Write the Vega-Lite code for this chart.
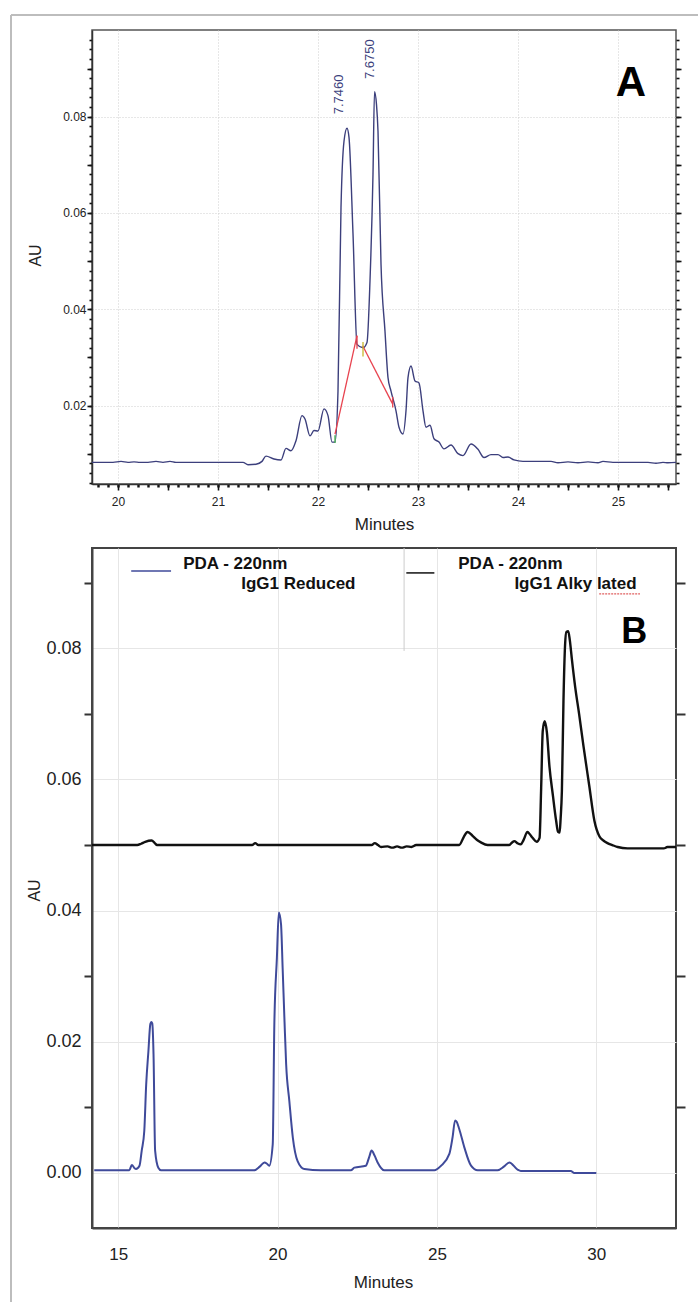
{
 "$schema": "https://vega.github.io/schema/vega-lite/v6.json",
 "background": "white",
 "padding": {"left": 9, "top": 13, "right": 0, "bottom": 0},
 "bounds": "flush",
 "spacing": 64,
 "resolve": {"scale": {"color": "independent"}},
 "config": {"font": "Liberation Sans", "axis": {"labelColor": "#222", "titleColor": "#222", "titleFontWeight": "normal", "labelOverlap": false, "labelFlush": false}},
 "datasets": {
  "frame": [{"x": 18.93, "x2": 18.93, "y": 0.1011, "y2": -0.1662}, {"x": 18.93, "x2": 25.8, "y": 0.1011, "y2": 0.1011}],
  "chromA": [
   {"t":19.74,"v":0.0082},{"t":19.95,"v":0.0082},{"t":20.03,"v":0.0084},{"t":20.10,"v":0.0082},{"t":20.16,"v":0.0083},{"t":20.22,"v":0.0082},{"t":20.30,"v":0.0082},{"t":20.38,"v":0.0084},{"t":20.45,"v":0.0082},{"t":20.52,"v":0.0084},{"t":20.58,"v":0.0082},{"t":20.70,"v":0.0082},{"t":21.00,"v":0.0082},{"t":21.25,"v":0.0082},{"t":21.30,"v":0.0077},{"t":21.38,"v":0.0078},{"t":21.44,"v":0.0084},{"t":21.48,"v":0.0095},{"t":21.56,"v":0.0089},{"t":21.63,"v":0.0087},{"t":21.68,"v":0.0111},{"t":21.73,"v":0.0106},{"t":21.78,"v":0.0127},{"t":21.84,"v":0.0179},{"t":21.87,"v":0.0172},{"t":21.92,"v":0.0137},{"t":21.96,"v":0.0148},{"t":22.00,"v":0.0147},{"t":22.06,"v":0.0193},{"t":22.10,"v":0.0179},{"t":22.14,"v":0.0124},{"t":22.17,"v":0.0124},{"t":22.20,"v":0.0230},{"t":22.23,"v":0.0611},{"t":22.26,"v":0.0749},{"t":22.29,"v":0.0776},{"t":22.31,"v":0.0757},{"t":22.35,"v":0.0557},{"t":22.39,"v":0.0327},{"t":22.45,"v":0.0320},{"t":22.49,"v":0.0331},{"t":22.52,"v":0.0459},{"t":22.55,"v":0.0681},{"t":22.565,"v":0.0852},{"t":22.585,"v":0.0825},{"t":22.60,"v":0.0770},{"t":22.63,"v":0.0494},{"t":22.67,"v":0.0354},{"t":22.70,"v":0.0258},{"t":22.73,"v":0.0230},{"t":22.78,"v":0.0189},{"t":22.81,"v":0.0155},{"t":22.85,"v":0.0141},{"t":22.88,"v":0.0189},{"t":22.90,"v":0.0258},{"t":22.93,"v":0.0282},{"t":22.97,"v":0.0251},{"t":23.01,"v":0.0247},{"t":23.05,"v":0.0189},{"t":23.08,"v":0.0155},{"t":23.12,"v":0.0159},{"t":23.16,"v":0.0131},{"t":23.21,"v":0.0124},{"t":23.26,"v":0.0110},{"t":23.33,"v":0.0118},{"t":23.40,"v":0.0100},{"t":23.45,"v":0.0096},{"t":23.53,"v":0.0120},{"t":23.60,"v":0.0109},{"t":23.66,"v":0.0092},{"t":23.73,"v":0.0098},{"t":23.80,"v":0.0098},{"t":23.85,"v":0.0092},{"t":23.90,"v":0.0093},{"t":23.96,"v":0.0087},{"t":24.05,"v":0.0084},{"t":24.33,"v":0.0084},{"t":24.40,"v":0.0081},{"t":24.50,"v":0.0083},{"t":24.60,"v":0.0081},{"t":24.70,"v":0.0083},{"t":24.80,"v":0.0081},{"t":24.85,"v":0.0084},{"t":24.95,"v":0.0082},{"t":25.10,"v":0.0082},{"t":25.30,"v":0.0082},{"t":25.38,"v":0.0080},{"t":25.45,"v":0.0082},{"t":25.50,"v":0.0081},{"t":25.58,"v":0.0082}
  ],
  "marksA": [
   {"x": 22.17, "x2": 22.39, "y": 0.01405, "y2": 0.0345, "c": "r"},
   {"x": 22.447, "x2": 22.747, "y": 0.0324, "y2": 0.0203, "c": "r"},
   {"x": 22.39, "x2": 22.39, "y": 0.0345, "y2": 0.0318, "c": "r"},
   {"x": 22.747, "x2": 22.747, "y": 0.0218, "y2": 0.0196, "c": "r"},
   {"x": 22.45, "x2": 22.45, "y": 0.0332, "y2": 0.0302, "c": "y"},
   {"x": 22.17, "x2": 22.17, "y": 0.0138, "y2": 0.0122, "c": "g"}
  ],
  "peaksA": [{"x": 22.21, "y": 0.0805, "label": "7.7460"}, {"x": 22.515, "y": 0.0878, "label": "7.6750"}],
  "tagA": [{"x": 25.13, "y": 0.0843, "label": "A"}],
  "chromB": [
   {"s":"Alkylated","t":14.18,"v":0.0500},{"s":"Alkylated","t":15.60,"v":0.0500},{"s":"Alkylated","t":15.72,"v":0.0502},{"s":"Alkylated","t":15.85,"v":0.0505},{"s":"Alkylated","t":16.05,"v":0.0507},{"s":"Alkylated","t":16.15,"v":0.0503},{"s":"Alkylated","t":16.22,"v":0.0500},{"s":"Alkylated","t":19.20,"v":0.0500},{"s":"Alkylated","t":19.30,"v":0.0503},{"s":"Alkylated","t":19.40,"v":0.0500},{"s":"Alkylated","t":22.95,"v":0.0500},{"s":"Alkylated","t":23.05,"v":0.0503},{"s":"Alkylated","t":23.15,"v":0.0500},{"s":"Alkylated","t":23.25,"v":0.0497},{"s":"Alkylated","t":23.45,"v":0.0498},{"s":"Alkylated","t":23.60,"v":0.0496},{"s":"Alkylated","t":23.75,"v":0.0498},{"s":"Alkylated","t":23.90,"v":0.0496},{"s":"Alkylated","t":24.05,"v":0.0498},{"s":"Alkylated","t":24.20,"v":0.0497},{"s":"Alkylated","t":24.35,"v":0.0500},{"s":"Alkylated","t":25.70,"v":0.0500},{"s":"Alkylated","t":25.80,"v":0.0508},{"s":"Alkylated","t":25.86,"v":0.0514},{"s":"Alkylated","t":25.96,"v":0.0520},{"s":"Alkylated","t":26.12,"v":0.0514},{"s":"Alkylated","t":26.25,"v":0.0508},{"s":"Alkylated","t":26.38,"v":0.0504},{"s":"Alkylated","t":26.59,"v":0.0500},{"s":"Alkylated","t":27.27,"v":0.0500},{"s":"Alkylated","t":27.36,"v":0.0504},{"s":"Alkylated","t":27.43,"v":0.0506},{"s":"Alkylated","t":27.52,"v":0.0503},{"s":"Alkylated","t":27.63,"v":0.0501},{"s":"Alkylated","t":27.72,"v":0.0508},{"s":"Alkylated","t":27.84,"v":0.0520},{"s":"Alkylated","t":27.92,"v":0.0516},{"s":"Alkylated","t":28.00,"v":0.0511},{"s":"Alkylated","t":28.13,"v":0.0505},{"s":"Alkylated","t":28.22,"v":0.0511},{"s":"Alkylated","t":28.27,"v":0.0587},{"s":"Alkylated","t":28.32,"v":0.0674},{"s":"Alkylated","t":28.38,"v":0.0689},{"s":"Alkylated","t":28.45,"v":0.0672},{"s":"Alkylated","t":28.53,"v":0.0620},{"s":"Alkylated","t":28.64,"v":0.0575},{"s":"Alkylated","t":28.74,"v":0.0537},{"s":"Alkylated","t":28.80,"v":0.0520},{"s":"Alkylated","t":28.85,"v":0.0519},{"s":"Alkylated","t":28.88,"v":0.0540},{"s":"Alkylated","t":28.92,"v":0.0582},{"s":"Alkylated","t":28.97,"v":0.0720},{"s":"Alkylated","t":29.02,"v":0.0805},{"s":"Alkylated","t":29.06,"v":0.0825},{"s":"Alkylated","t":29.12,"v":0.0826},{"s":"Alkylated","t":29.17,"v":0.0812},{"s":"Alkylated","t":29.23,"v":0.0785},{"s":"Alkylated","t":29.34,"v":0.0740},{"s":"Alkylated","t":29.46,"v":0.0700},{"s":"Alkylated","t":29.60,"v":0.0650},{"s":"Alkylated","t":29.78,"v":0.0590},{"s":"Alkylated","t":29.94,"v":0.0537},{"s":"Alkylated","t":30.10,"v":0.0513},{"s":"Alkylated","t":30.22,"v":0.0507},{"s":"Alkylated","t":30.35,"v":0.0503},{"s":"Alkylated","t":30.50,"v":0.0500},{"s":"Alkylated","t":30.67,"v":0.0497},{"s":"Alkylated","t":30.98,"v":0.0495},{"s":"Alkylated","t":32.12,"v":0.0495},{"s":"Alkylated","t":32.23,"v":0.0497},{"s":"Alkylated","t":32.50,"v":0.0497},
   {"s":"Reduced","t":14.25,"v":0.0004},{"s":"Reduced","t":15.35,"v":0.0004},{"s":"Reduced","t":15.43,"v":0.0012},{"s":"Reduced","t":15.52,"v":0.0007},{"s":"Reduced","t":15.56,"v":0.0006},{"s":"Reduced","t":15.67,"v":0.0011},{"s":"Reduced","t":15.74,"v":0.0034},{"s":"Reduced","t":15.82,"v":0.0064},{"s":"Reduced","t":15.88,"v":0.0135},{"s":"Reduced","t":15.95,"v":0.0186},{"s":"Reduced","t":16.01,"v":0.0227},{"s":"Reduced","t":16.04,"v":0.0230},{"s":"Reduced","t":16.07,"v":0.0228},{"s":"Reduced","t":16.11,"v":0.0181},{"s":"Reduced","t":16.16,"v":0.0034},{"s":"Reduced","t":16.26,"v":0.0008},{"s":"Reduced","t":16.35,"v":0.0004},{"s":"Reduced","t":19.27,"v":0.0004},{"s":"Reduced","t":19.45,"v":0.0010},{"s":"Reduced","t":19.59,"v":0.0016},{"s":"Reduced","t":19.67,"v":0.0014},{"s":"Reduced","t":19.74,"v":0.0011},{"s":"Reduced","t":19.85,"v":0.0044},{"s":"Reduced","t":19.90,"v":0.0227},{"s":"Reduced","t":19.98,"v":0.0328},{"s":"Reduced","t":20.04,"v":0.0397},{"s":"Reduced","t":20.11,"v":0.0379},{"s":"Reduced","t":20.16,"v":0.0313},{"s":"Reduced","t":20.22,"v":0.0230},{"s":"Reduced","t":20.27,"v":0.0166},{"s":"Reduced","t":20.37,"v":0.0110},{"s":"Reduced","t":20.48,"v":0.0054},{"s":"Reduced","t":20.63,"v":0.0018},{"s":"Reduced","t":20.84,"v":0.0006},{"s":"Reduced","t":21.36,"v":0.0004},{"s":"Reduced","t":22.30,"v":0.0004},{"s":"Reduced","t":22.41,"v":0.0008},{"s":"Reduced","t":22.77,"v":0.0011},{"s":"Reduced","t":22.88,"v":0.0025},{"s":"Reduced","t":22.95,"v":0.0034},{"s":"Reduced","t":23.04,"v":0.0027},{"s":"Reduced","t":23.14,"v":0.0016},{"s":"Reduced","t":23.35,"v":0.0004},{"s":"Reduced","t":24.92,"v":0.0004},{"s":"Reduced","t":25.13,"v":0.0011},{"s":"Reduced","t":25.39,"v":0.0029},{"s":"Reduced","t":25.49,"v":0.0054},{"s":"Reduced","t":25.57,"v":0.0080},{"s":"Reduced","t":25.62,"v":0.0078},{"s":"Reduced","t":25.70,"v":0.0067},{"s":"Reduced","t":25.86,"v":0.0039},{"s":"Reduced","t":26.07,"v":0.0011},{"s":"Reduced","t":26.28,"v":0.0004},{"s":"Reduced","t":26.90,"v":0.0004},{"s":"Reduced","t":27.11,"v":0.0010},{"s":"Reduced","t":27.27,"v":0.0016},{"s":"Reduced","t":27.53,"v":0.0005},{"s":"Reduced","t":27.63,"v":0.0003},{"s":"Reduced","t":29.20,"v":0.0003},{"s":"Reduced","t":29.31,"v":0.0000},{"s":"Reduced","t":30.00,"v":0.0000}
  ],
  "legLines": [{"x": 15.41, "x2": 16.66, "y": 0.0918, "s": "Reduced"}, {"x": 24.04, "x2": 24.92, "y": 0.0915, "s": "Alkylated"}],
  "legText": [{"x": 17.04, "y": 0.0921, "label": "PDA - 220nm"}, {"x": 18.86, "y": 0.0890, "label": "IgG1 Reduced"}, {"x": 25.67, "y": 0.0921, "label": "PDA - 220nm"}, {"x": 27.43, "y": 0.0890, "label": "IgG1  Alky lated"}],
  "divider": [{"x": 23.97, "y": 0.0953, "y2": 0.0796}],
  "underline": [{"x": 30.09, "x2": 31.37, "y": 0.0883}],
  "tagB": [{"x": 31.19, "y": 0.0808, "label": "B"}]
 },
 "vconcat": [
  {
   "width": 584,
   "height": 454,
   "view": {"stroke": "#555", "strokeWidth": 1.5},
   "resolve": {"axis": {"x": "independent", "y": "independent"}},
   "layer": [
    {
     "data": {"name": "frame"},
     "mark": {"type": "rule", "color": "#bdbdbd", "strokeWidth": 2, "clip": false},
     "encoding": {
      "x": {"field": "x", "type": "quantitative", "scale": {"domain": [19.74, 25.58], "nice": false, "zero": false},
       "axis": {
        "orient": "bottom",
        "values": [19.8,19.9,20,20.1,20.2,20.3,20.4,20.5,20.6,20.7,20.8,20.9,21,21.1,21.2,21.3,21.4,21.5,21.6,21.7,21.8,21.9,22,22.1,22.2,22.3,22.4,22.5,22.6,22.7,22.8,22.9,23,23.1,23.2,23.3,23.4,23.5,23.6,23.7,23.8,23.9,24,24.1,24.2,24.3,24.4,24.5,24.6,24.7,24.8,24.9,25,25.1,25.2,25.3,25.4,25.5],
        "labels": false, "domain": false, "grid": false, "title": null,
        "tickSize": 3, "tickWidth": 2.4, "tickColor": "#111"
       }},
      "x2": {"field": "x2"},
      "y": {"field": "y", "type": "quantitative", "scale": {"domain": [0.0037, 0.098], "nice": false, "zero": false},
       "axis": {
        "orient": "left",
        "values": [0.004,0.006,0.008,0.01,0.012,0.014,0.016,0.018,0.02,0.022,0.024,0.026,0.028,0.03,0.032,0.034,0.036,0.038,0.04,0.042,0.044,0.046,0.048,0.05,0.052,0.054,0.056,0.058,0.06,0.062,0.064,0.066,0.068,0.07,0.072,0.074,0.076,0.078,0.08,0.082,0.084,0.086,0.088,0.09,0.092,0.094,0.096],
        "labels": false, "domain": false, "grid": false, "title": null,
        "tickSize": 3, "tickWidth": 1.6, "tickColor": "#111"
       }},
      "y2": {"field": "y2"}
     }
    },
    {
     "data": {"name": "chromA"},
     "mark": {"type": "line", "color": "#3c3f7c", "strokeWidth": 1.4, "interpolate": "monotone"},
     "encoding": {
      "x": {"field": "t", "type": "quantitative", "scale": {"domain": [19.74, 25.58], "nice": false, "zero": false},
       "axis": {
        "orient": "bottom",
        "values": [20,20.5,21,21.5,22,22.5,23,23.5,24,24.5,25,25.5],
        "labelExpr": "abs(datum.value - round(datum.value)) < 0.01 ? format(datum.value, 'd') : ''",
        "tickSize": 6,
        "tickWidth": 1.6,
        "tickColor": "#111",
        "grid": true,
        "gridColor": "#cfcfcf",
        "gridDash": [1, 2],
        "gridOpacity": {"condition": {"test": "abs(datum.value - round(datum.value)) < 0.01", "value": 1}, "value": 0},
        "domainColor": "#333",
        "domainWidth": 1.5,
        "labelFontSize": 12,
        "labelPadding": 6,
        "title": "Minutes",
        "titleFontSize": 17,
        "titleX": 292,
        "titleY": 45,
        "titleBaseline": "alphabetic"
       }},
      "y": {"field": "v", "type": "quantitative", "scale": {"domain": [0.0037, 0.098], "nice": false, "zero": false},
       "axis": {
        "orient": "left",
        "values": [0.01,0.02,0.03,0.04,0.05,0.06,0.07,0.08,0.09],
        "labelExpr": "abs(datum.value*50 - round(datum.value*50)) < 0.01 ? format(datum.value, '.2f') : ''",
        "tickSize": 5,
        "tickColor": "#111",
        "tickWidth": 1.6,
        "grid": true,
        "gridColor": "#cfcfcf",
        "gridDash": [1, 2],
        "gridOpacity": {"condition": {"test": "abs(datum.value*50 - round(datum.value*50)) < 0.01", "value": 1}, "value": 0},
        "domainColor": "#333",
        "domainWidth": 1.5,
        "labelFontSize": 12,
        "labelPadding": 1,
        "title": "AU",
        "titleFontSize": 16,
        "titleX": -52,
        "titleY": 225,
        "titleBaseline": "alphabetic"
       }}
     }
    },
    {
     "data": {"name": "marksA"},
     "mark": {"type": "rule", "strokeWidth": 1.3},
     "encoding": {
      "x": {"field": "x", "type": "quantitative", "scale": {"domain": [19.74, 25.58], "nice": false, "zero": false}, "axis": null},
      "x2": {"field": "x2"},
      "y": {"field": "y", "type": "quantitative", "scale": {"domain": [0.0037, 0.098], "nice": false, "zero": false},
       "axis": {
        "orient": "right",
        "values": [0.01,0.02,0.03,0.04,0.05,0.06,0.07,0.08,0.09],
        "labels": false, "grid": false, "domain": false, "title": null,
        "tickSize": 5, "tickColor": "#111", "tickWidth": 1.6
       }},
      "y2": {"field": "y2"},
      "color": {"field": "c", "type": "nominal", "scale": {"domain": ["r", "y", "g"], "range": ["#e8434f", "#c9b92f", "#3fae4a"]}, "legend": null}
     }
    },
    {
     "data": {"name": "peaksA"},
     "mark": {"type": "text", "angle": 270, "align": "left", "baseline": "middle", "fontSize": 13, "color": "#3c3f7c"},
     "encoding": {
      "x": {"field": "x", "type": "quantitative", "scale": {"domain": [19.74, 25.58], "nice": false, "zero": false}, "axis": null},
      "y": {"field": "y", "type": "quantitative", "scale": {"domain": [0.0037, 0.098], "nice": false, "zero": false},
       "axis": {
        "orient": "right",
        "values": [0.004,0.006,0.008,0.01,0.012,0.014,0.016,0.018,0.02,0.022,0.024,0.026,0.028,0.03,0.032,0.034,0.036,0.038,0.04,0.042,0.044,0.046,0.048,0.05,0.052,0.054,0.056,0.058,0.06,0.062,0.064,0.066,0.068,0.07,0.072,0.074,0.076,0.078,0.08,0.082,0.084,0.086,0.088,0.09,0.092,0.094,0.096],
        "labels": false, "domain": false, "grid": false, "title": null,
        "tickSize": 3, "tickWidth": 1.6, "tickColor": "#111"
       }},
      "text": {"field": "label"}
     }
    },
    {
     "data": {"name": "tagA"},
     "mark": {"type": "text", "align": "center", "baseline": "alphabetic", "fontSize": 42, "fontWeight": "bold", "color": "#000"},
     "encoding": {
      "x": {"field": "x", "type": "quantitative", "scale": {"domain": [19.74, 25.58], "nice": false, "zero": false}, "axis": null},
      "y": {"field": "y", "type": "quantitative", "scale": {"domain": [0.0037, 0.098], "nice": false, "zero": false}, "axis": null},
      "text": {"field": "label"}
     }
    }
   ]
  },
  {
   "width": 584,
   "height": 680,
   "view": {"stroke": "#444", "strokeWidth": 2},
   "resolve": {"axis": {"x": "independent", "y": "independent"}},
   "layer": [
    {
     "data": {"name": "chromB"},
     "transform": [{"filter": "datum.s == 'Alkylated'"}],
     "mark": {"type": "line", "color": "#111111", "strokeWidth": 2.4, "interpolate": "monotone"},
     "encoding": {
      "x": {"field": "t", "type": "quantitative", "scale": {"domain": [14.18, 32.5], "nice": false, "zero": false},
       "axis": {
        "values": [15, 20, 25, 30],
        "format": "d",
        "ticks": false,
        "labelFontSize": 17,
        "labelPadding": 18,
        "grid": true,
        "gridColor": "#e6e6e6",
        "domainColor": "#444",
        "domainWidth": 2,
        "title": "Minutes",
        "titleFontSize": 17,
        "titleX": 291,
        "titleY": 59,
        "titleBaseline": "alphabetic"
       }},
      "y": {"field": "v", "type": "quantitative", "scale": {"domain": [-0.0084, 0.0953], "nice": false, "zero": false},
       "axis": {
        "orient": "left",
        "values": [0, 0.01, 0.02, 0.03, 0.04, 0.05, 0.06, 0.07, 0.08, 0.09],
        "labelExpr": "round(datum.value*100) % 2 == 0 ? format(datum.value, '.2f') : ''",
        "tickSize": 8,
        "tickWidth": 2,
        "tickColor": "#333",
        "tickOpacity": {"condition": {"test": "round(datum.value*100) % 2 == 1", "value": 1}, "value": 0},
        "grid": true,
        "gridColor": "#e6e6e6",
        "gridOpacity": {"condition": {"test": "round(datum.value*100) % 2 == 0", "value": 1}, "value": 0},
        "domainColor": "#444",
        "domainWidth": 2,
        "labelFontSize": 18,
        "labelPadding": 3,
        "title": "AU",
        "titleFontSize": 16,
        "titleX": -53,
        "titleY": 342,
        "titleBaseline": "alphabetic"
       }}
     }
    },
    {
     "data": {"name": "chromB"},
     "transform": [{"filter": "datum.s == 'Reduced'"}],
     "mark": {"type": "line", "color": "#3f4a9a", "strokeWidth": 2, "interpolate": "monotone"},
     "encoding": {
      "x": {"field": "t", "type": "quantitative", "scale": {"domain": [14.18, 32.5], "nice": false, "zero": false}, "axis": null},
      "y": {"field": "v", "type": "quantitative", "scale": {"domain": [-0.0084, 0.0953], "nice": false, "zero": false}, "axis": null}
     }
    },
    {
     "data": {"name": "divider"},
     "mark": {"type": "rule", "color": "#cccccc", "strokeWidth": 1},
     "encoding": {
      "x": {"field": "x", "type": "quantitative", "scale": {"domain": [14.18, 32.5], "nice": false, "zero": false}, "axis": null},
      "y": {"field": "y", "type": "quantitative", "scale": {"domain": [-0.0084, 0.0953], "nice": false, "zero": false}, "axis": null},
      "y2": {"field": "y2"}
     }
    },
    {
     "data": {"name": "legLines"},
     "mark": {"type": "rule", "strokeWidth": 1.5},
     "encoding": {
      "x": {"field": "x", "type": "quantitative", "scale": {"domain": [14.18, 32.5], "nice": false, "zero": false}, "axis": null},
      "x2": {"field": "x2"},
      "y": {"field": "y", "type": "quantitative", "scale": {"domain": [-0.0084, 0.0953], "nice": false, "zero": false},
       "axis": {
        "orient": "right",
        "values": [0.01, 0.03, 0.05, 0.07, 0.09],
        "labels": false,
        "tickSize": 9,
        "tickWidth": 2,
        "tickColor": "#333",
        "grid": false,
        "domain": false,
        "title": null
       }},
      "color": {"field": "s", "type": "nominal", "scale": {"domain": ["Reduced", "Alkylated"], "range": ["#3f4a9a", "#111111"]}, "legend": null}
     }
    },
    {
     "data": {"name": "legText"},
     "mark": {"type": "text", "align": "left", "baseline": "alphabetic", "fontSize": 17, "fontWeight": "bold", "color": "#111"},
     "encoding": {
      "x": {"field": "x", "type": "quantitative", "scale": {"domain": [14.18, 32.5], "nice": false, "zero": false}, "axis": null},
      "y": {"field": "y", "type": "quantitative", "scale": {"domain": [-0.0084, 0.0953], "nice": false, "zero": false}, "axis": null},
      "text": {"field": "label"}
     }
    },
    {
     "data": {"name": "underline"},
     "mark": {"type": "rule", "color": "#e06060", "strokeWidth": 1.3, "strokeDash": [2, 1]},
     "encoding": {
      "x": {"field": "x", "type": "quantitative", "scale": {"domain": [14.18, 32.5], "nice": false, "zero": false}, "axis": null},
      "x2": {"field": "x2"},
      "y": {"field": "y", "type": "quantitative", "scale": {"domain": [-0.0084, 0.0953], "nice": false, "zero": false}, "axis": null}
     }
    },
    {
     "data": {"name": "tagB"},
     "mark": {"type": "text", "align": "center", "baseline": "alphabetic", "fontSize": 36, "fontWeight": "bold", "color": "#000"},
     "encoding": {
      "x": {"field": "x", "type": "quantitative", "scale": {"domain": [14.18, 32.5], "nice": false, "zero": false}, "axis": null},
      "y": {"field": "y", "type": "quantitative", "scale": {"domain": [-0.0084, 0.0953], "nice": false, "zero": false}, "axis": null},
      "text": {"field": "label"}
     }
    }
   ]
  }
 ]
}
